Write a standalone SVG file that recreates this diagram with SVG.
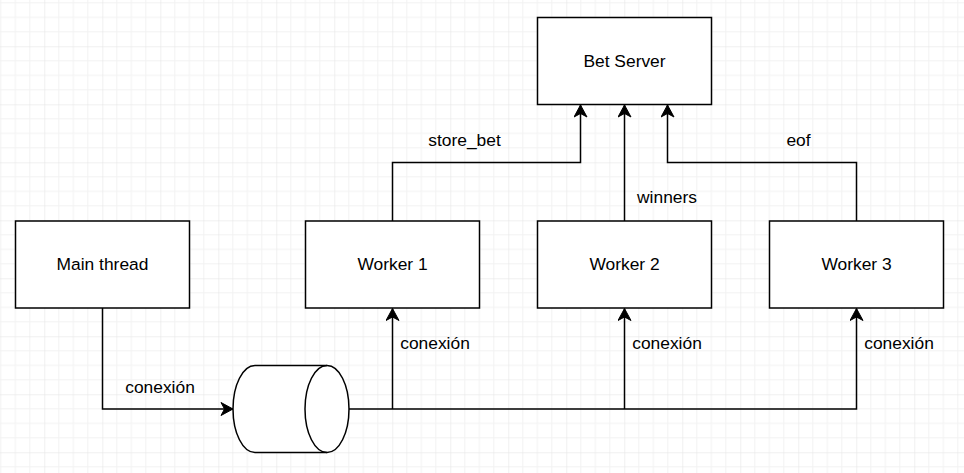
<svg xmlns="http://www.w3.org/2000/svg" width="964" height="473" viewBox="0 0 964 473">
<style>
.box{fill:#ffffff;stroke:#000000;stroke-width:1.5}
.ln{fill:none;stroke:#000000;stroke-width:1.5}
.lbl{font-family:"Liberation Sans",Arial,sans-serif;font-size:17.4px;fill:#000000}
.c{text-anchor:middle}
</style>
<defs>
<pattern id="grid" patternUnits="userSpaceOnUse" x="-13.7" y="-11.7" width="58" height="58">
<path d="M14.5,0V58M29,0V58M43.5,0V58M0,14.5H58M0,29H58M0,43.5H58" stroke="#f2f2f2" stroke-width="1" fill="none"/>
<path d="M0,0V58M0,0H58" stroke="#e2e2e2" stroke-width="1" fill="none"/>
</pattern>
<marker id="arr" markerUnits="userSpaceOnUse" viewBox="-13 -7 14 14" refX="0" refY="0" markerWidth="14" markerHeight="14" orient="auto">
<path d="M0,0L-12,-6.5L-8.5,0L-12,6.5Z" fill="#000000" stroke="#000000" stroke-width="1"/>
</marker>
</defs>
<rect width="964" height="473" fill="#ffffff"/>
<rect width="964" height="473" fill="url(#grid)"/>

<g id="connectors">
<path class="ln" d="M102.5,308V409H233" marker-end="url(#arr)"/>
<path class="ln" d="M349,409H856.5V308.5" marker-end="url(#arr)"/>
<path class="ln" d="M392.5,409V308.5" marker-end="url(#arr)"/>
<path class="ln" d="M624.5,409V308.5" marker-end="url(#arr)"/>
<path class="ln" d="M392.5,221V162.5H580.5V105" marker-end="url(#arr)"/>
<path class="ln" d="M624.5,221V105" marker-end="url(#arr)"/>
<path class="ln" d="M856.5,221V162.5H667.5V105" marker-end="url(#arr)"/>
<text class="lbl c" x="464.5" y="146">store_bet</text>
<text class="lbl c" x="667" y="203">winners</text>
<text class="lbl c" x="798.5" y="146">eof</text>
<text class="lbl c" x="160" y="393">conexión</text>
<text class="lbl c" x="435" y="348.5">conexión</text>
<text class="lbl c" x="667" y="348.5">conexión</text>
<text class="lbl c" x="899" y="348.5">conexión</text>
</g>

<g id="bet-server">
<rect class="box" x="537.5" y="17.5" width="174" height="87"/>
<text class="lbl c" x="624.5" y="67">Bet Server</text>
</g>
<g id="main-thread">
<rect class="box" x="15.5" y="221" width="174" height="87"/>
<text class="lbl c" x="102.5" y="270">Main thread</text>
</g>
<g id="worker-1">
<rect class="box" x="305.5" y="221" width="174" height="87"/>
<text class="lbl c" x="392.5" y="270">Worker 1</text>
</g>
<g id="worker-2">
<rect class="box" x="537.5" y="221" width="174" height="87"/>
<text class="lbl c" x="624.5" y="270">Worker 2</text>
</g>
<g id="worker-3">
<rect class="box" x="769.5" y="221" width="174" height="87"/>
<text class="lbl c" x="856.5" y="270">Worker 3</text>
</g>
<g id="queue">
<path class="box" d="M255,365.5H327A22,43.5 0 0 1 327,452.5H255A22,43.5 0 0 1 255,365.5Z"/>
<path class="ln" d="M327,365.5A22,43.5 0 0 0 327,452.5"/>
</g>
</svg>
